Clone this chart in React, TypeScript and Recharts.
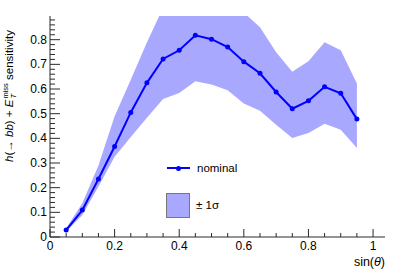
import { ComposedChart, Area, Line, XAxis, YAxis } from "recharts";

// sin(theta) bins
const sinTheta = [0.05, 0.1, 0.15, 0.2, 0.25, 0.3, 0.35, 0.4, 0.45, 0.5, 0.55, 0.6, 0.65, 0.7, 0.75, 0.8, 0.85, 0.9, 0.95];

// nominal sensitivity
const nominal = [0.028, 0.109, 0.235, 0.367, 0.505, 0.625, 0.722, 0.757, 0.818, 0.802, 0.77, 0.711, 0.664, 0.588, 0.52, 0.552, 0.609, 0.583, 0.478];

// +/- 1 sigma band edges
const sigmaUp = [0.035, 0.137, 0.29, 0.49, 0.638, 0.789, 0.93, 1.0, 1.02, 1.0, 0.96, 0.91, 0.85, 0.749, 0.67, 0.713, 0.79, 0.757, 0.622];
const sigmaDown = [0.022, 0.089, 0.205, 0.325, 0.405, 0.483, 0.56, 0.584, 0.631, 0.618, 0.595, 0.541, 0.512, 0.455, 0.401, 0.422, 0.459, 0.435, 0.361];

// axis ticks
const xMajorTicks = [0, 0.2, 0.4, 0.6, 0.8, 1];
const xTickLabels = ["0", "0.2", "0.4", "0.6", "0.8", "1"];
const yMajorTicks = [0, 0.1, 0.2, 0.3, 0.4, 0.5, 0.6, 0.7, 0.8];
const yTickLabels = ["0", "0.1", "0.2", "0.3", "0.4", "0.5", "0.6", "0.7", "0.8"];

const xTicks: number[] = [];
for (let i = 0; i <= 20; i++) xTicks.push(Math.round(i * 5) / 100);
const yTicks: number[] = [];
for (let i = 0; i <= 44; i++) yTicks.push(Math.round(i * 2) / 100);

const data = sinTheta.map((x, i) => ({
  x,
  nominal: nominal[i],
  band: [sigmaDown[i], sigmaUp[i]],
}));

const FONT = "'Liberation Sans', Arial, Helvetica, sans-serif";
const AXIS = "#2a2a2a";
const BAND = "#a8a8ff";
const BLUE = "#0000ff";

const xLabel = (v: number) => {
  const i = xMajorTicks.findIndex((t) => Math.abs(t - v) < 1e-6);
  return i >= 0 ? xTickLabels[i] : null;
};
const yLabel = (v: number) => {
  const i = yMajorTicks.findIndex((t) => Math.abs(t - v) < 1e-6);
  return i >= 0 ? yTickLabels[i] : null;
};

const BottomTick = ({ x, y, payload }: any) => {
  const lab = xLabel(payload.value);
  return (
    <g>
      <line x1={x} x2={x} y1={y} y2={y - (lab ? 8 : 4)} stroke={AXIS} />
      {lab && (
        <text x={x} y={y + 13} textAnchor="middle" fontSize={12} fill="#000">
          {lab}
        </text>
      )}
    </g>
  );
};

const TopTick = ({ x, y, payload }: any) => {
  const lab = xLabel(payload.value);
  return <line x1={x} x2={x} y1={y} y2={y + (lab ? 8 : 4)} stroke={AXIS} />;
};

const LeftTick = ({ x, y, payload }: any) => {
  const lab = yLabel(payload.value);
  return (
    <g>
      <line x1={x} x2={x + (lab ? 10 : 5)} y1={y} y2={y} stroke={AXIS} />
      {lab && (
        <text x={x - 3} y={y + 4} textAnchor="end" fontSize={12} fill="#000">
          {lab}
        </text>
      )}
    </g>
  );
};

const RightTick = ({ x, y, payload }: any) => {
  const lab = yLabel(payload.value);
  return <line x1={x} x2={x - (lab ? 10 : 5)} y1={y} y2={y} stroke={AXIS} />;
};

export default function App() {
  return (
    <div
      style={{
        position: "absolute",
        left: 0,
        top: 0,
        width: 402,
        height: 273,
        background: "#fff",
        fontFamily: FONT,
      }}
    >
      <ComposedChart
        width={402}
        height={273}
        data={data}
        margin={{ top: 16, right: 17, bottom: 0, left: 0 }}
      >
        <Area
          dataKey="band"
          type="linear"
          fill={BAND}
          fillOpacity={1}
          stroke="none"
          isAnimationActive={false}
        />
        <Line
          dataKey="nominal"
          type="linear"
          stroke={BLUE}
          strokeWidth={2}
          dot={{ r: 2.5, fill: BLUE, stroke: "none" }}
          isAnimationActive={false}
        />
        <XAxis
          dataKey="x"
          type="number"
          domain={[0, 1.037]}
          ticks={xTicks}
          allowDataOverflow
          height={36}
          tickSize={0}
          tickMargin={0}
          tickLine={false}
          interval={0}
          axisLine={{ stroke: AXIS }}
          tick={<BottomTick />}
        />
        <XAxis
          xAxisId="top"
          orientation="top"
          dataKey="x"
          type="number"
          domain={[0, 1.037]}
          ticks={xTicks}
          allowDataOverflow
          height={0}
          tickSize={0}
          tickMargin={0}
          tickLine={false}
          interval={0}
          axisLine={{ stroke: AXIS }}
          tick={<TopTick />}
        />
        <YAxis
          type="number"
          domain={[0, 0.896]}
          ticks={yTicks}
          allowDataOverflow
          width={50}
          tickSize={0}
          tickMargin={0}
          tickLine={false}
          interval={0}
          axisLine={{ stroke: AXIS }}
          tick={<LeftTick />}
        />
        <YAxis
          yAxisId="right"
          orientation="right"
          type="number"
          domain={[0, 0.896]}
          ticks={yTicks}
          allowDataOverflow
          width={0}
          tickSize={0}
          tickMargin={0}
          tickLine={false}
          interval={0}
          axisLine={{ stroke: AXIS }}
          tick={<RightTick />}
        />
      </ComposedChart>

      {/* y axis title */}
      <div
        style={{
          position: "absolute",
          left: 10,
          top: 96,
          transform: "translate(-50%, -50%) rotate(-90deg)",
          whiteSpace: "nowrap",
          fontSize: 11.5,
          lineHeight: 1,
          color: "#000",
        }}
      >
        <i>h</i>(→ <i>bb</i>) + <i>E</i>
        <span
          style={{
            display: "inline-flex",
            flexDirection: "column",
            fontSize: 7.5,
            lineHeight: "8px",
            verticalAlign: "middle",
            marginLeft: 1,
          }}
        >
          <span>miss</span>
          <i>T</i>
        </span>{" "}
        sensitivity
      </div>

      {/* x axis title */}
      <div
        style={{
          position: "absolute",
          right: 17,
          top: 254,
          fontSize: 12.5,
          lineHeight: "16px",
          color: "#000",
        }}
      >
        sin(<i>θ</i>)
      </div>

      {/* legend */}
      <div style={{ position: "absolute", left: 167, top: 167, width: 23, height: 2, background: BLUE }} />
      <div
        style={{
          position: "absolute",
          left: 176,
          top: 165.5,
          width: 5,
          height: 5,
          borderRadius: "50%",
          background: BLUE,
        }}
      />
      <div style={{ position: "absolute", left: 197, top: 161, fontSize: 11.5, lineHeight: "14px" }}>nominal</div>
      <div
        style={{
          position: "absolute",
          left: 166,
          top: 193,
          width: 24,
          height: 25,
          background: BAND,
          border: "1px solid #777",
          boxSizing: "border-box",
        }}
      />
      <div style={{ position: "absolute", left: 196, top: 198, fontSize: 11.5, lineHeight: "14px" }}>
        ± 1σ
      </div>
    </div>
  );
}
